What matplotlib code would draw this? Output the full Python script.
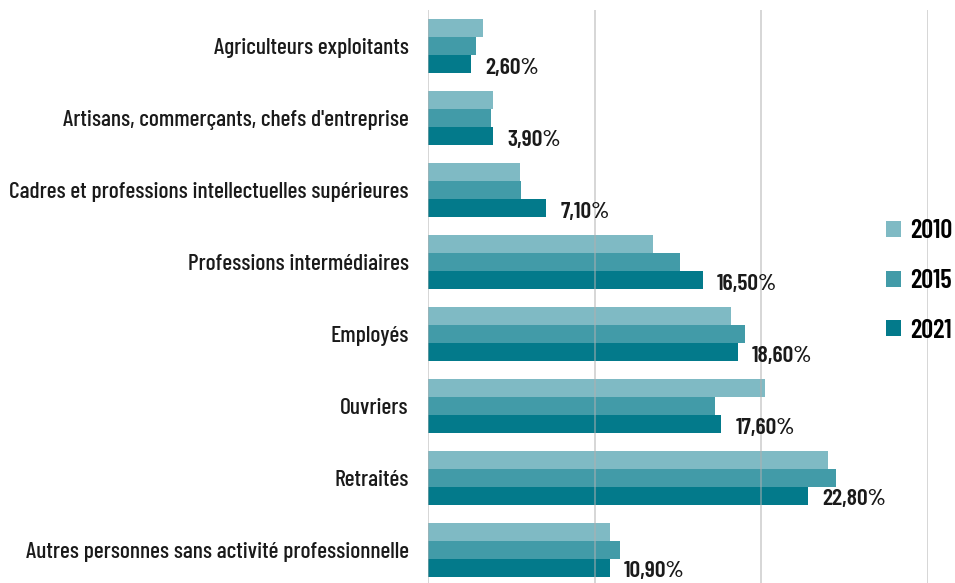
import matplotlib

matplotlib.use("Agg")
import matplotlib.pyplot as plt
import numpy as np

plt.rcParams["font.family"] = ["Barlow Condensed", "DejaVu Sans"]

categories = [
    "Agriculteurs exploitants",
    "Artisans, commerçants, chefs d'entreprise",
    "Cadres et professions intellectuelles supérieures",
    "Professions intermédiaires",
    "Employés",
    "Ouvriers",
    "Retraités",
    "Autres personnes sans activité professionnelle",
]
years = ["2010", "2015", "2021"]
values_2010 = [3.3, 3.9, 5.5, 13.5, 18.2, 20.2, 24.0, 10.9]
values_2015 = [2.9, 3.8, 5.6, 15.1, 19.0, 17.2, 24.5, 11.5]
values_2021 = [2.6, 3.9, 7.1, 16.5, 18.6, 17.6, 22.8, 10.9]
labels_2021 = ["2,60%", "3,90%", "7,10%", "16,50%", "18,60%", "17,60%", "22,80%", "10,90%"]

colors = ["#7fbac4", "#429ba8", "#037a8b"]

fig = plt.figure(figsize=(9.55, 5.83), dpi=100)
ax = fig.add_axes([428 / 955, 0.0, 500 / 955, 573 / 583])

y = np.arange(len(categories))
h = 0.25
series = [values_2010, values_2015, values_2021]
for i, (vals, col, year) in enumerate(zip(series, colors, years)):
    ax.barh(y + (i - 1) * h, vals, height=h, color=col, label=year, zorder=2)

# libellés de la série 2021
for yi, v, lab in zip(y, values_2021, labels_2021):
    ax.text(v + 0.85, yi + h + 0.05, lab, va="center", ha="left",
            fontsize=17, fontweight=600, color="#1a1a1a")

ax.set_xlim(0, 30)
ax.set_ylim(len(categories) - 0.54, -0.5)
ax.set_xticks([0, 10, 20, 30])
ax.xaxis.grid(True, color="#b0b0b0", linewidth=1.2, alpha=0.6, zorder=3)
ax.set_axisbelow(False)
ax.tick_params(axis="x", length=0, labelbottom=False)
ax.tick_params(axis="y", length=0, pad=14)
ax.set_yticks(y)
ax.set_yticklabels(categories, fontsize=16.9, fontweight=500, color="#1a1a1a")
for s in ax.spines.values():
    s.set_visible(False)

leg = fig.legend(loc="center left", bbox_to_anchor=(886 / 955, 1 - 281 / 583),
                 frameon=False, fontsize=19, handlelength=0.57, handleheight=0.57,
                 handletextpad=0.34, labelspacing=0.97, borderpad=0, borderaxespad=0)
for t in leg.get_texts():
    t.set_fontweight(600)

fig.savefig("out.png", dpi=100)
